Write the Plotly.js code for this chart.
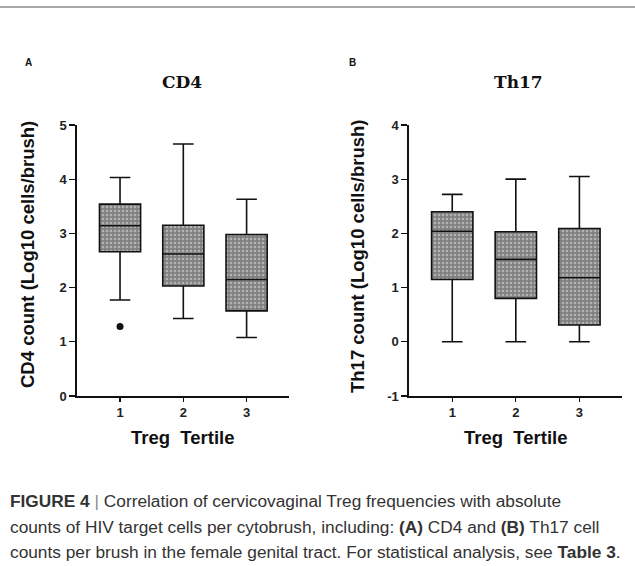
<!DOCTYPE html>
<html>
<head>
<meta charset="utf-8">
<script src="https://cdn.plot.ly/plotly-3.0.1.min.js"></script>
<style>html,body{margin:0;padding:0;background:#fff;}#chart{width:635px;height:566px;}</style>
</head>
<body>
<div id="chart"></div>
<script>
// Data (Log10 cells/brush)
const tertiles = [1, 2, 3];
const tickLabels = ['1', '2', '3'];
const cd4YTicks = [0, 1, 2, 3, 4, 5];
const cd4YLabels = ['0', '1', '2', '3', '4', '5'];
const th17YTicks = [-1, 0, 1, 2, 3, 4];
const th17YLabels = ['-1', '0', '1', '2', '3', '4'];

const cd4Lower  = [1.77, 1.43, 1.08];
const cd4Q1     = [2.66, 2.03, 1.57];
const cd4Median = [3.14, 2.62, 2.15];
const cd4Q3     = [3.54, 3.15, 2.98];
const cd4Upper  = [4.03, 4.65, 3.63];
const cd4OutlierX = [1];
const cd4OutlierY = [1.28];

const th17Lower  = [0.00, 0.00, 0.00];
const th17Q1     = [1.15, 0.80, 0.31];
const th17Median = [2.04, 1.52, 1.18];
const th17Q3     = [2.40, 2.03, 2.09];
const th17Upper  = [2.72, 3.00, 3.05];

const BOXW = 0.65;
const pattern = {shape: '.', bgcolor: '#808080', fgcolor: '#e6e6e6', size: 4, solidity: 0.35, fillmode: 'overlay'};

function fillBars(q1, q3, xa, ya) {
  return {
    type: 'bar', x: tertiles, base: q1, y: q3.map((v, i) => v - q1[i]),
    width: BOXW, xaxis: xa, yaxis: ya, hoverinfo: 'skip', showlegend: false,
    marker: {color: '#808080', pattern: pattern, line: {width: 0}}
  };
}
function boxes(lo, q1, med, q3, hi, xa, ya) {
  return {
    type: 'box', x: tertiles, lowerfence: lo, q1: q1, median: med, q3: q3, upperfence: hi,
    width: BOXW, whiskerwidth: 0.5, xaxis: xa, yaxis: ya, showlegend: false,
    fillcolor: 'rgba(0,0,0,0)', line: {color: '#111', width: 1.6}, boxpoints: false
  };
}

const traces = [
  fillBars(cd4Q1, cd4Q3, 'x', 'y'),
  boxes(cd4Lower, cd4Q1, cd4Median, cd4Q3, cd4Upper, 'x', 'y'),
  {type: 'scatter', mode: 'markers', x: cd4OutlierX, y: cd4OutlierY, xaxis: 'x', yaxis: 'y',
   marker: {color: '#111', size: 7}, showlegend: false},
  fillBars(th17Q1, th17Q3, 'x2', 'y2'),
  boxes(th17Lower, th17Q1, th17Median, th17Q3, th17Upper, 'x2', 'y2')
];

const tickFont = {family: 'Liberation Sans, Arial, sans-serif', size: 13, color: '#222', weight: 'bold'};
function xax(domain, anchor) {
  return {domain: domain, anchor: anchor, range: [0.32, 3.67], tickvals: tertiles, ticktext: tickLabels,
    showline: true, linecolor: '#111', linewidth: 1.6, ticks: 'outside', ticklen: 4, tickwidth: 1.2, tickcolor: '#111',
    showgrid: false, zeroline: false, tickfont: tickFont, fixedrange: true};
}
function yax(range, anchor, vals, labels) {
  return {domain: [0.3004, 0.7792], anchor: anchor, range: range, tickvals: vals, ticktext: labels,
    showline: true, linecolor: '#111', linewidth: 1.6, ticks: 'outside', ticklen: 6, tickwidth: 1.2, tickcolor: '#111',
    showgrid: false, zeroline: false, tickfont: tickFont, fixedrange: true};
}

function py(p) { return 1 - p / 566; }
function px(p) { return p / 635; }
const boldSans = {family: 'Liberation Sans, Arial, sans-serif', color: '#111', weight: 'bold'};
const capFont = {family: 'Liberation Sans, Arial, sans-serif', size: 17.3, color: '#333'};

const annotations = [
  {text: '<b>A</b>', x: px(28), y: py(62), font: Object.assign({}, boldSans, {size: 10})},
  {text: '<b>B</b>', x: px(352), y: py(62), font: Object.assign({}, boldSans, {size: 10})},
  {text: '<b>CD4</b>', x: px(182), y: py(82), font: {family: 'DejaVu Serif, Liberation Serif, serif', size: 17, color: '#111'}},
  {text: '<b>Th17</b>', x: px(518), y: py(82), font: {family: 'DejaVu Serif, Liberation Serif, serif', size: 17, color: '#111'}},
  {text: '<b>CD4 count (Log10 cells/brush)</b>', x: px(27), y: py(255), textangle: -90, font: Object.assign({}, boldSans, {size: 18.5})},
  {text: '<b>Th17 count (Log10 cells/brush)</b>', x: px(357), y: py(257), textangle: -90, font: Object.assign({}, boldSans, {size: 18.5})},
  {text: '<b>Treg\u00a0 Tertile</b>', x: px(183), y: py(438), font: Object.assign({}, boldSans, {size: 18.5})},
  {text: '<b>Treg\u00a0 Tertile</b>', x: px(516), y: py(438), font: Object.assign({}, boldSans, {size: 18.5})},
  {text: '<b>FIGURE 4</b> <span style="color:#888">|</span> Correlation of cervicovaginal Treg frequencies with absolute',
   x: px(8), y: py(501), xanchor: 'left', font: capFont},
  {text: 'counts of HIV target cells per cytobrush, including: <b>(A)</b> CD4 and <b>(B)</b> Th17 cell',
   x: px(8), y: py(526.5), xanchor: 'left', font: capFont},
  {text: 'counts per brush in the female genital tract. For statistical analysis, see <b>Table 3</b>.',
   x: px(8), y: py(551.5), xanchor: 'left', font: capFont}
].map(a => Object.assign({xref: 'paper', yref: 'paper', showarrow: false, xanchor: 'center', yanchor: 'middle'}, a));

const layout = {
  width: 635, height: 566, margin: {l: 0, r: 0, t: 0, b: 0},
  paper_bgcolor: '#fff', plot_bgcolor: 'rgba(0,0,0,0)', showlegend: false,
  barmode: 'overlay', boxmode: 'overlay',
  xaxis: xax([77/635, 289/635], 'y'),
  yaxis: yax([0, 5], 'x', cd4YTicks, cd4YLabels),
  xaxis2: xax([409/635, 622/635], 'y2'),
  yaxis2: yax([-1, 4], 'x2', th17YTicks, th17YLabels),
  annotations: annotations,
  shapes: [{type: 'line', xref: 'paper', yref: 'paper', x0: 0, x1: 1, y0: py(7), y1: py(7), line: {color: '#a6a6a6', width: 2}}]
};

Plotly.newPlot('chart', traces, layout, {displayModeBar: false, staticPlot: true});
</script>
</body>
</html>
